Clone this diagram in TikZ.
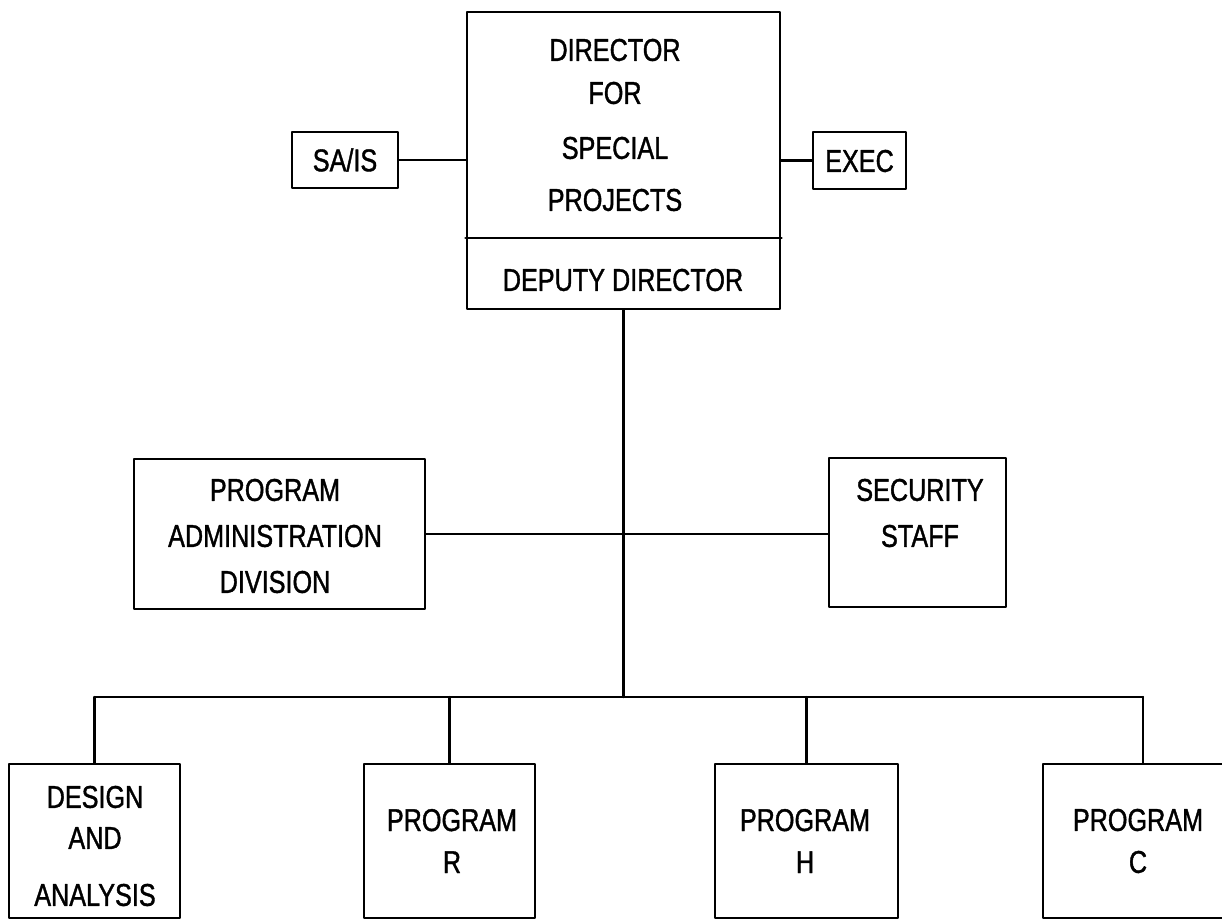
\documentclass[tikz,border=0pt]{standalone}
\usepackage{fontspec}
\newfontfamily\orgfont[FakeStretch=0.8,FakeBold=1.2]{Liberation Sans}

\begin{document}
\begin{tikzpicture}[line join = round, line cap = round, x = 1pt, y = -1pt,
    box/.style={draw, line width=2.8pt, inner sep=0pt},
    lbl/.style={font=\orgfont\fontsize{31.5}{46}\selectfont, align=center, inner sep=0pt},
    link/.style={line width=2.4pt}]
  \useasboundingbox (0,0) rectangle (1222,920);
  \clip (0,0) rectangle (1222,920);
  %Director and the two staff boxes
  \node[box, minimum width=313, minimum height=297] (dir) at (623.5,160.5) {};
  \coordinate (split) at (0,238);
  \draw[line width=2.8pt] (dir.west |- split) -- (dir.east |- split);
  \node[lbl] (dirtxt) at (615,125) {DIRECTOR\\[-3pt]FOR\\[9pt]SPECIAL\\[6pt]PROJECTS};
  \node[lbl] (deptxt) at (623,280) {DEPUTY DIRECTOR};
  \node[box, minimum width=106, minimum height=56] (sais) at (345,160) {};
  \node[lbl] (saistxt) at (345,160) {SA/IS};
  \node[box, minimum width=93, minimum height=57] (exec) at (859.5,160.5) {};
  \node[lbl] (exectxt) at (859.5,161) {EXEC};
  \draw[link] (sais.east) -- (sais.east -| dir.west);
  \draw[link] (exec.west -| dir.east) -- (exec.west);
  %Middle level
  \node[box, minimum width=291, minimum height=150] (pad) at (279.5,534) {};
  \node[lbl] (padtxt) at (275,536) {PROGRAM\\ADMINISTRATION\\DIVISION};
  \node[box, minimum width=177, minimum height=149] (sec) at (917.5,532.5) {};
  \node[lbl] (sectxt) at (920,513) {SECURITY\\STAFF};
  \draw[link] (pad.east) -- (pad.east -| sec.west);
  %Bottom level
  \foreach \n/\x/\w in {da/94.5/171, pr/449.5/171, ph/806.5/183, pc/1143/200}
    \node[box, minimum width=\w, minimum height=154] (\n) at (\x,841) {};
  \node[lbl] (datxt) at (95,846) {DESIGN\\[-5pt]AND\\[11pt]ANALYSIS};
  \node[lbl] (prtxt) at (452,841) {PROGRAM\\[-4pt]R};
  \node[lbl] (phtxt) at (805,841) {PROGRAM\\[-4pt]H};
  \node[lbl] (pctxt) at (1138,841) {PROGRAM\\[-4pt]C};
  \coordinate (bus) at (0,697);
  \draw[link] (dir.south) -- (dir.south |- bus);
  \draw[link] (da.north |- bus) -- (pc.north |- bus);
  \foreach \n in {da,pr,ph,pc} \draw[link] (\n.north |- bus) -- (\n.north);
\end{tikzpicture}
\end{document}
